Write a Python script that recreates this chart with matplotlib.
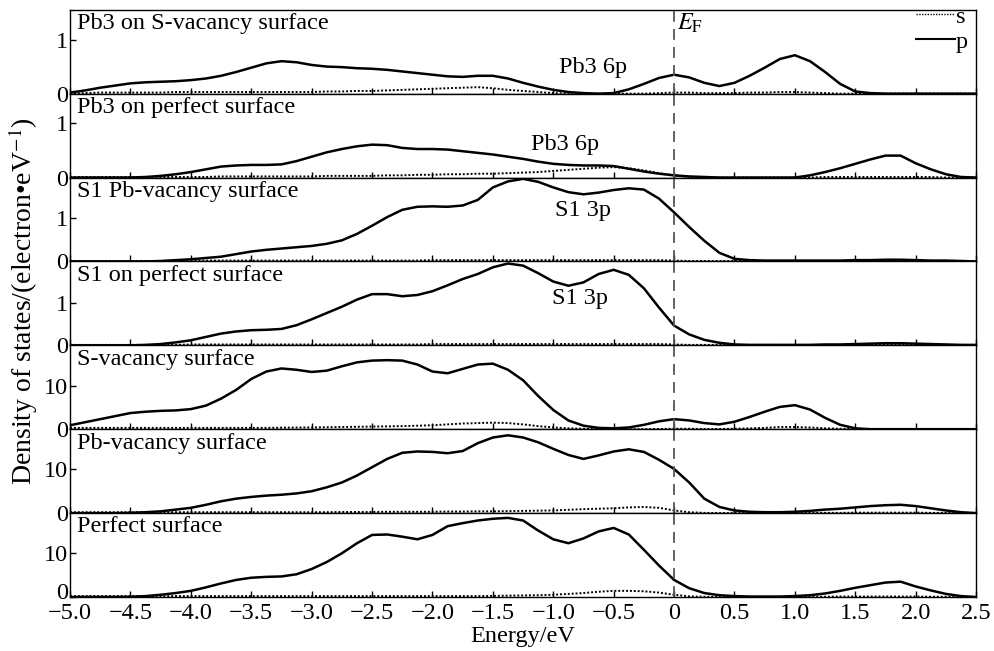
import matplotlib
matplotlib.use("Agg")
import matplotlib.pyplot as plt
from matplotlib.lines import Line2D
from matplotlib.transforms import ScaledTranslation

plt.rcParams["font.family"] = ["Liberation Serif", "DejaVu Serif"]
plt.rcParams["mathtext.fontset"] = "stix"

# energy grid (eV), step 0.125, 8 values per row
energy = [-5.0, -4.875, -4.75, -4.625, -4.5, -4.375, -4.25, -4.125,
          -4.0, -3.875, -3.75, -3.625, -3.5, -3.375, -3.25, -3.125,
          -3.0, -2.875, -2.75, -2.625, -2.5, -2.375, -2.25, -2.125,
          -2.0, -1.875, -1.75, -1.625, -1.5, -1.375, -1.25, -1.125,
          -1.0, -0.875, -0.75, -0.625, -0.5, -0.375, -0.25, -0.125,
          0.0, 0.125, 0.25, 0.375, 0.5, 0.625, 0.75, 0.875,
          1.0, 1.125, 1.25, 1.375, 1.5, 1.625, 1.75, 1.875,
          2.0, 2.125, 2.25, 2.375, 2.5]

titles = ["Pb3 on S-vacancy surface", "Pb3 on perfect surface",
          "S1 Pb-vacancy surface", "S1 on perfect surface",
          "S-vacancy surface", "Pb-vacancy surface", "Perfect surface"]

pb3_svac_p = [0.02, 0.06, 0.11, 0.15, 0.19, 0.21, 0.22, 0.23,
              0.25, 0.28, 0.33, 0.40, 0.48, 0.56, 0.60, 0.58,
              0.53, 0.50, 0.49, 0.47, 0.46, 0.44, 0.41, 0.38,
              0.35, 0.32, 0.31, 0.33, 0.33, 0.28, 0.20, 0.13,
              0.07, 0.03, 0.01, 0.0, 0.01, 0.08, 0.18, 0.29,
              0.35, 0.30, 0.20, 0.14, 0.20, 0.33, 0.48, 0.64,
              0.71, 0.60, 0.40, 0.18, 0.04, 0.01, 0.0, 0.0,
              0.0, 0.0, 0.0, 0.0, 0.0]
pb3_svac_s = [0.0, 0.01, 0.02, 0.02, 0.02, 0.02, 0.02, 0.03,
              0.03, 0.03, 0.03, 0.03, 0.03, 0.03, 0.03, 0.03,
              0.03, 0.04, 0.04, 0.05, 0.05, 0.06, 0.07, 0.08,
              0.09, 0.10, 0.11, 0.12, 0.10, 0.07, 0.05, 0.03,
              0.01, 0.0, 0.0, 0.0, 0.0, 0.0, 0.0, 0.01,
              0.02, 0.02, 0.01, 0.01, 0.01, 0.02, 0.02, 0.03,
              0.03, 0.02, 0.01, 0.0, 0.0, 0.0, 0.0, 0.0,
              0.0, 0.0, 0.0, 0.0, 0.0]

pb3_perf_p = [0.0, 0.0, 0.0, 0.0, 0.0, 0.01, 0.03, 0.06,
              0.10, 0.15, 0.20, 0.22, 0.23, 0.23, 0.24, 0.30,
              0.38, 0.46, 0.52, 0.57, 0.60, 0.59, 0.54, 0.52,
              0.52, 0.51, 0.48, 0.45, 0.42, 0.38, 0.34, 0.29,
              0.25, 0.23, 0.22, 0.22, 0.21, 0.16, 0.11, 0.07,
              0.04, 0.02, 0.01, 0.0, 0.0, 0.0, 0.0, 0.0,
              0.0, 0.04, 0.10, 0.17, 0.25, 0.33, 0.40, 0.40,
              0.26, 0.15, 0.06, 0.01, 0.0]
pb3_perf_s = [0.01, 0.01, 0.01, 0.01, 0.01, 0.01, 0.01, 0.01,
              0.01, 0.01, 0.02, 0.02, 0.02, 0.02, 0.02, 0.02,
              0.02, 0.03, 0.03, 0.03, 0.03, 0.04, 0.04, 0.05,
              0.05, 0.06, 0.06, 0.07, 0.07, 0.08, 0.09, 0.10,
              0.12, 0.14, 0.16, 0.18, 0.19, 0.17, 0.13, 0.08,
              0.04, 0.01, 0.0, 0.0, 0.0, 0.0, 0.0, 0.0,
              0.0, 0.0, 0.01, 0.01, 0.01, 0.01, 0.01, 0.01,
              0.01, 0.01, 0.0, 0.0, 0.0]

s1_pbvac_p = [0.0, 0.0, 0.0, 0.0, 0.0, 0.0, 0.01, 0.03,
              0.05, 0.08, 0.11, 0.17, 0.23, 0.27, 0.30, 0.33,
              0.36, 0.41, 0.49, 0.64, 0.83, 1.03, 1.20, 1.27,
              1.28, 1.27, 1.30, 1.43, 1.72, 1.86, 1.92, 1.85,
              1.72, 1.61, 1.56, 1.60, 1.66, 1.70, 1.67, 1.46,
              1.14, 0.80, 0.48, 0.20, 0.06, 0.03, 0.02, 0.02,
              0.02, 0.02, 0.02, 0.02, 0.03, 0.03, 0.04, 0.04,
              0.03, 0.02, 0.02, 0.01, 0.0]
s1_pbvac_s = [0.01, 0.01, 0.01, 0.01, 0.01, 0.01, 0.01, 0.01,
              0.02, 0.02, 0.02, 0.02, 0.02, 0.02, 0.02, 0.02,
              0.02, 0.02, 0.02, 0.02, 0.02, 0.02, 0.02, 0.02,
              0.03, 0.03, 0.03, 0.03, 0.03, 0.03, 0.03, 0.03,
              0.03, 0.03, 0.03, 0.03, 0.03, 0.03, 0.03, 0.03,
              0.02, 0.01, 0.01, 0.01, 0.01, 0.01, 0.01, 0.01,
              0.01, 0.01, 0.01, 0.01, 0.01, 0.01, 0.01, 0.01,
              0.01, 0.01, 0.01, 0.01, 0.0]

s1_perf_p = [0.0, 0.0, 0.0, 0.0, 0.0, 0.01, 0.03, 0.07,
             0.12, 0.20, 0.28, 0.33, 0.36, 0.37, 0.39, 0.48,
             0.62, 0.77, 0.92, 1.09, 1.22, 1.22, 1.17, 1.20,
             1.29, 1.43, 1.58, 1.70, 1.86, 1.95, 1.90, 1.72,
             1.52, 1.42, 1.50, 1.70, 1.80, 1.68, 1.36, 0.90,
             0.47, 0.26, 0.13, 0.06, 0.02, 0.01, 0.01, 0.01,
             0.01, 0.01, 0.02, 0.02, 0.03, 0.04, 0.05, 0.05,
             0.04, 0.03, 0.02, 0.01, 0.01]
s1_perf_s = [0.01, 0.01, 0.01, 0.01, 0.01, 0.01, 0.01, 0.01,
             0.02, 0.02, 0.02, 0.02, 0.02, 0.02, 0.02, 0.02,
             0.02, 0.02, 0.02, 0.02, 0.02, 0.02, 0.02, 0.02,
             0.03, 0.03, 0.03, 0.03, 0.03, 0.03, 0.03, 0.03,
             0.03, 0.03, 0.03, 0.03, 0.03, 0.03, 0.03, 0.03,
             0.02, 0.01, 0.01, 0.01, 0.01, 0.01, 0.01, 0.01,
             0.01, 0.01, 0.01, 0.01, 0.01, 0.01, 0.01, 0.01,
             0.01, 0.01, 0.01, 0.01, 0.0]

svac_p = [0.9, 1.6, 2.3, 3.0, 3.7, 4.0, 4.2, 4.3,
          4.6, 5.4, 7.0, 9.0, 11.5, 13.2, 13.9, 13.6,
          13.1, 13.4, 14.4, 15.3, 15.7, 15.8, 15.7, 14.8,
          13.2, 12.8, 13.8, 14.8, 15.0, 13.6, 11.2, 7.6,
          4.4, 2.0, 0.8, 0.3, 0.2, 0.4, 1.0, 1.8,
          2.3, 2.0, 1.4, 1.1, 1.7, 2.8, 4.0, 5.1,
          5.5, 4.5, 2.6, 1.0, 0.2, 0.0, 0.0, 0.0,
          0.0, 0.0, 0.0, 0.0, 0.0]
svac_s = [0.3, 0.3, 0.3, 0.3, 0.3, 0.3, 0.3, 0.3,
          0.3, 0.3, 0.3, 0.3, 0.3, 0.3, 0.35, 0.38,
          0.4, 0.45, 0.5, 0.55, 0.6, 0.65, 0.7, 0.8,
          0.9, 1.1, 1.3, 1.4, 1.5, 1.4, 1.1, 0.7,
          0.4, 0.2, 0.1, 0.05, 0.0, 0.0, 0.0, 0.05,
          0.1, 0.1, 0.05, 0.05, 0.1, 0.2, 0.3, 0.5,
          0.5, 0.4, 0.2, 0.1, 0.0, 0.0, 0.0, 0.0,
          0.0, 0.0, 0.0, 0.0, 0.0]

pbvac_p = [0.0, 0.0, 0.0, 0.0, 0.05, 0.2, 0.4, 0.8,
           1.2, 1.9, 2.7, 3.3, 3.7, 4.0, 4.2, 4.5,
           5.0, 5.9, 7.0, 8.6, 10.5, 12.4, 13.8, 14.1,
           14.0, 13.7, 14.2, 16.0, 17.3, 17.8, 17.3, 16.2,
           14.7, 13.3, 12.4, 13.2, 14.1, 14.6, 14.0, 12.2,
           10.1, 7.0, 3.3, 1.4, 0.6, 0.3, 0.2, 0.2,
           0.3, 0.5, 0.8, 1.0, 1.3, 1.6, 1.8, 1.9,
           1.6, 1.1, 0.6, 0.2, 0.0]
pbvac_s = [0.2, 0.2, 0.2, 0.2, 0.2, 0.2, 0.2, 0.2,
           0.2, 0.2, 0.2, 0.2, 0.2, 0.2, 0.2, 0.2,
           0.2, 0.2, 0.25, 0.25, 0.25, 0.3, 0.3, 0.3,
           0.3, 0.35, 0.35, 0.4, 0.4, 0.45, 0.5, 0.55,
           0.6, 0.75, 0.9, 1.0, 1.1, 1.3, 1.4, 1.2,
           0.6, 0.2, 0.05, 0.0, 0.0, 0.0, 0.0, 0.0,
           0.0, 0.05, 0.05, 0.05, 0.1, 0.1, 0.1, 0.1,
           0.1, 0.05, 0.05, 0.0, 0.0]

perf_p = [0.0, 0.0, 0.0, 0.0, 0.05, 0.2, 0.5, 0.9,
          1.4, 2.2, 3.1, 3.9, 4.4, 4.6, 4.7, 5.2,
          6.4, 8.0, 10.0, 12.3, 14.2, 14.3, 13.8, 13.2,
          14.2, 16.2, 16.9, 17.5, 17.9, 18.1, 17.5, 15.2,
          13.2, 12.3, 13.4, 15.0, 15.8, 14.3, 10.8, 7.2,
          3.9, 2.0, 0.9, 0.4, 0.2, 0.1, 0.1, 0.1,
          0.2, 0.4, 0.8, 1.4, 2.1, 2.7, 3.3, 3.5,
          2.4, 1.5, 0.7, 0.2, 0.0]
perf_s = [0.2, 0.2, 0.2, 0.2, 0.2, 0.2, 0.2, 0.2,
          0.2, 0.2, 0.2, 0.2, 0.2, 0.2, 0.2, 0.2,
          0.2, 0.2, 0.2, 0.2, 0.2, 0.2, 0.2, 0.2,
          0.2, 0.2, 0.2, 0.2, 0.25, 0.3, 0.35, 0.4,
          0.5, 0.7, 0.9, 1.2, 1.4, 1.4, 1.3, 1.0,
          0.5, 0.15, 0.05, 0.0, 0.0, 0.0, 0.0, 0.0,
          0.0, 0.05, 0.05, 0.1, 0.1, 0.1, 0.1, 0.1,
          0.1, 0.05, 0.05, 0.0, 0.0]

p_series = [pb3_svac_p, pb3_perf_p, s1_pbvac_p, s1_perf_p, svac_p, pbvac_p, perf_p]
s_series = [pb3_svac_s, pb3_perf_s, s1_pbvac_s, s1_perf_s, svac_s, pbvac_s, perf_s]
y_tops = [1.55, 1.53, 1.95, 2.0, 19.2, 19.2, 19.2]
y_ticks = [[0, 1]] * 4 + [[0, 10]] * 3

# orbital annotations: (panel, energy, value, text)
notes = [(0, -0.67, 0.48, "Pb3 6p"), (1, -0.9, 0.6, "Pb3 6p"),
         (2, -0.75, 1.19, "S1 3p"), (3, -0.78, 1.12, "S1 3p")]

x_ticks = [-5.0, -4.5, -4.0, -3.5, -3.0, -2.5, -2.0, -1.5, -1.0, -0.5,
           0.0, 0.5, 1.0, 1.5, 2.0, 2.5]
x_labels = ["\u22125.0", "\u22124.5", "\u22124.0", "\u22123.5", "\u22123.0",
            "\u22122.5", "\u22122.0", "\u22121.5", "\u22121.0", "\u22120.5",
            "0", "0.5", "1.0", "1.5", "2.0", "2.5"]

fs = 17.5
fig, axes = plt.subplots(7, 1, figsize=(9.94, 6.51), dpi=100, sharex=True)
fig.subplots_adjust(left=0.0705, right=0.982, top=0.985, bottom=0.083, hspace=0)

for i, ax in enumerate(axes):
    ax.plot(energy, s_series[i], color="black", lw=1.4, ls=(0, (1, 1)))
    ax.plot(energy, p_series[i], color="black", lw=1.8)
    ax.axvline(0, color="#555555", lw=1.3, ls=(0, (6, 4)))
    ax.set_xlim(-5.0, 2.5)
    ax.set_ylim(0, y_tops[i])
    ax.set_yticks(y_ticks[i])
    ax.set_yticklabels([str(t) for t in y_ticks[i]])
    ax.tick_params(direction="in", labelsize=fs, length=4, width=1,
                   top=False, right=False, pad=1.5)
    ax.text(0.008, 0.96, titles[i], transform=ax.transAxes,
            ha="left", va="top", fontsize=fs)
    for sp in ax.spines.values():
        sp.set_linewidth(1.0)

for k, xe, yv, t in notes:
    axes[k].text(xe, yv, t, ha="center", va="center", fontsize=fs)

axes[-1].set_xticks(x_ticks)
axes[-1].set_xticklabels(x_labels)
axes[-1].tick_params(axis="x", pad=4)
axes[-1].set_xlabel("Energy/eV", fontsize=fs, labelpad=2)

# lift the corner "0" a little so it clears the -5.0 label
corner = axes[-1].get_yticklabels()[0]
corner.set_transform(corner.get_transform()
                     + ScaledTranslation(0, 4 / 72, fig.dpi_scale_trans))

axes[0].text(0.02, 1.52, "$E_\\mathrm{F}$", ha="left", va="top", fontsize=fs)

handles = [Line2D([], [], color="black", lw=1.0, ls=(0, (1, 1))),
           Line2D([], [], color="black", lw=1.5)]
axes[0].legend(handles, ["s", "p"], loc="upper right", frameon=False,
               fontsize=fs, handlelength=1.6, handletextpad=0.05,
               labelspacing=0.12, borderaxespad=0.0, borderpad=0.0,
               bbox_to_anchor=(0.991, 1.05))

fig.text(0.023, 0.537, "Density of states/(electron\u2022eV$^{-1}$)",
         rotation=90, ha="center", va="center", fontsize=20)

fig.savefig("out.png", dpi=100)
